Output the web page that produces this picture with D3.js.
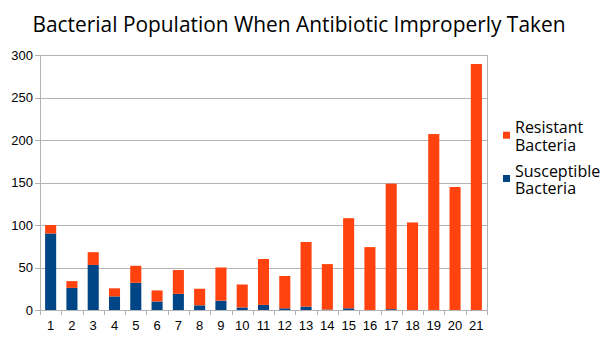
<!DOCTYPE html>
<html><head><meta charset="utf-8">
<script src="https://cdn.jsdelivr.net/npm/d3@7"></script>
<style>body{margin:0;background:#fff}svg{display:block}</style>
</head><body>
<svg id="c" width="600" height="338"></svg>
<script>
const categories = ["1","2","3","4","5","6","7","8","9","10","11","12","13","14","15","16","17","18","19","20","21"];
const susceptible = [90,26,53,16,32,10,19,5.5,11,3,6,2,4,0.5,2,0,1,0,0,0,0];
const resistant  = [10,8,15,9.5,20,13,28,19.5,39,27,54,38,76,53.5,106,74,147.6,103,207,144.7,289.4];
const yTicks = [0,50,100,150,200,250,300];
const colors = ["#004586","#ff420e"];

const svg = d3.select("#c");
const L=40, R=487, T=55, B=310;
const x = d3.scaleBand().domain(categories).range([L,R]).paddingInner(0.48).paddingOuter(0.24);
const xb = d3.scaleBand().domain(categories).range([L,R]);
const y = d3.scaleLinear().domain([0,300]).range([B,T]);

svg.append("text").attr("x",299).attr("y",31.5).attr("text-anchor","middle")
  .style("font-family","'Open Sans'").style("font-size","20.9px").attr("fill","#000")
  .text("Bacterial Population When Antibiotic Improperly Taken");

// grid
svg.append("g").selectAll("line").data(yTicks.filter(d=>d>0)).join("line")
  .attr("x1",L).attr("x2",R).attr("y1",d=>Math.round(y(d))+0.5).attr("y2",d=>Math.round(y(d))+0.5)
  .attr("stroke","#b3b3b3");

const data = categories.map((c,i)=>({c, s:susceptible[i], r:resistant[i]}));
const stack = d3.stack().keys(["s","r"])(data);
svg.append("g").selectAll("g").data(stack).join("g").attr("fill",(d,i)=>colors[i])
  .selectAll("rect").data(d=>d).join("rect")
  .attr("x",d=>x(d.data.c)).attr("width",x.bandwidth())
  .attr("y",d=>y(d[1])).attr("height",d=>y(d[0])-y(d[1]));

// axes lines
svg.append("line").attr("x1",L+0.5).attr("x2",L+0.5).attr("y1",T).attr("y2",B).attr("stroke","#b3b3b3");
svg.append("line").attr("x1",R+0.5).attr("x2",R+0.5).attr("y1",T).attr("y2",B).attr("stroke","#b3b3b3");
svg.append("line").attr("x1",L).attr("x2",R).attr("y1",B+0.5).attr("y2",B+0.5).attr("stroke","#b3b3b3");

// y ticks
const yg = svg.append("g");
yg.selectAll("line").data(yTicks).join("line").attr("x1",L-5).attr("x2",L)
  .attr("y1",d=>Math.round(y(d))+0.5).attr("y2",d=>Math.round(y(d))+0.5).attr("stroke","#b3b3b3");
yg.selectAll("text").data(yTicks).join("text").attr("x",L-7).attr("y",d=>y(d)+4.5)
  .attr("text-anchor","end").style("font-family","'Liberation Sans'").style("font-size","13px").text(d=>d);

// x ticks
const xg = svg.append("g");
const bounds = categories.map(c=>xb(c)).concat([R]);
xg.selectAll("line").data(bounds).join("line").attr("x1",d=>Math.round(d)+0.5).attr("x2",d=>Math.round(d)+0.5)
  .attr("y1",B).attr("y2",B+5).attr("stroke","#b3b3b3");
xg.selectAll("text").data(categories).join("text").attr("x",d=>xb(d)+xb.bandwidth()/2).attr("y",B+20)
  .attr("text-anchor","middle").style("font-family","'Liberation Sans'").style("font-size","13px").text(d=>d);

// legend
const leg = [{name:["Resistant","Bacteria"],col:colors[1],sq:131.7,base:133.3},
             {name:["Susceptible","Bacteria"],col:colors[0],sq:175,base:176.7}];
const lg = svg.append("g").selectAll("g").data(leg).join("g");
lg.append("rect").attr("x",503).attr("y",d=>d.sq).attr("width",7).attr("height",7).attr("fill",d=>d.col);
lg.each(function(d){
  d.name.forEach((t,i)=>{
    d3.select(this).append("text").attr("x",515).attr("y",d.base+i*17.5)
      .style("font-family","'Open Sans'").style("font-size","16px").text(t);
  });
});
</script>
</body></html>
